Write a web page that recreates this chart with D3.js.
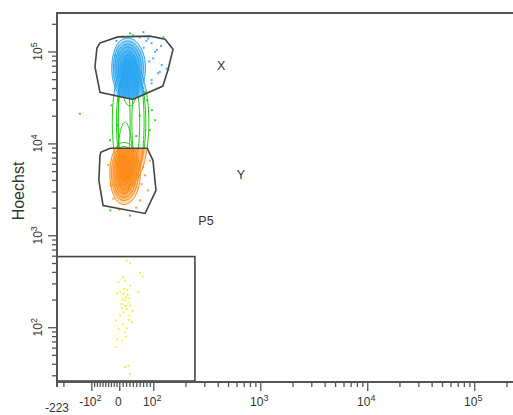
<!DOCTYPE html>
<html lang="en">
<head>
<meta charset="UTF-8">
<title>Hoechst gating</title>
<script src="https://d3js.org/d3.v7.min.js"></script>
<style>
  body { margin: 0; background: #fff; }
  svg { display: block; font-family: "Liberation Sans", Arial, sans-serif; }
  .frame { stroke: #555; stroke-width: 2; fill: none; }
  .tick line { stroke: #555; stroke-width: 1.3; }
  .domain { display: none; }
  .gate { fill: none; stroke: #444; stroke-width: 1.6; }
  .tlab { font-size: 12px; fill: #333; }
  .glab { font-size: 12.5px; fill: #333; }
</style>
</head>
<body>
<div id="chart"></div>
<script>
// axis ranges in raw channel units
const xDomain = [-223, 262144];
const yDomain = [26, 262144];
const xMajor = [-100, 0, 100, 1000, 10000, 100000];
const xLabels = [["-10", "2"], ["0", ""], ["10", "2"], ["10", "3"], ["10", "4"], ["10", "5"]];
const yMajor = [100, 1000, 10000, 100000];
const yLabels = [["10", "2"], ["10", "3"], ["10", "4"], ["10", "5"]];

// gates
const gateX = [[-69, 1.24e5], [-5, 1.44e5], [90, 1.47e5], [129, 1.36e5], [153, 1.06e5], [137, 6.3e4],
               [123, 4.2e4], [40, 3.0e4], [-69, 3.6e4], [-87, 6.8e4], [-80, 1.09e5]];
const gateY = [[-66, 8.0e3], [-33, 8.85e3], [82, 8.85e3], [99, 6.55e3], [106, 3.08e3], [76, 1.73e3],
               [-58, 2.11e3], [-73, 3.96e3], [-69, 7.4e3]];
const gateP5 = [[-223, 26], [245, 587]];
const gateNames = ["X", "Y", "P5"];
const gateLabelAt = [[430, 7.1e4], [661, 4.6e3], [311, 1.45e3]];

// contour rings: [centre x, centre y, half width (x units), half height (decades)]
const ringsX = [[25, 6.6e4, 52, 0.327], [25, 6.6e4, 46, 0.294], [25, 6.6e4, 40, 0.262], [25, 6.6e4, 34, 0.229],
                [25, 6.6e4, 28, 0.185], [25, 6.6e4, 22, 0.142], [25, 6.6e4, 15, 0.098], [25, 6.6e4, 8, 0.055],
                [31, 4.9e4, 24, 0.284]];
const ringsY = [[14, 4.7e3, 48, 0.338], [14, 4.7e3, 42, 0.294], [14, 4.7e3, 36, 0.262], [14, 4.7e3, 30, 0.218],
                [14, 4.7e3, 24, 0.174], [14, 4.7e3, 18, 0.131], [14, 4.7e3, 11, 0.087], [14, 4.7e3, 6, 0.05],
                [17, 6.9e3, 21, 0.39]];
const ringsBridge = [[31, 1.7e4, 56, 0.676], [34, 1.7e4, 44, 0.633], [28, 1.7e4, 32, 0.6],
                     [14, 1.7e4, 18, 0.545], [55, 1.7e4, 18, 0.49]];

// loose events
const dotsX = [[95, 1.23e5], [108, 1.04e5], [120, 7.1e4], [115, 6.0e4], [133, 6.5e4], [95, 4.9e4], [100, 8.4e4],
               [57, 5.3e4], [104, 9.9e4], [111, 5.8e4], [138, 6.3e4], [95, 4.5e4], [80, 1.3e5], [60, 1.42e5],
               [72, 1.1e5], [88, 7.8e4], [-10, 1.3e5], [-15, 9e4], [10, 1.45e5], [40, 1.5e5], [85, 1.38e5],
               [118, 1.15e5], [-20, 7e4], [70, 4.0e4]];
const dotsOut = [[32, 1.57e5], [71, 1.62e5], [124, 1.43e5], [-141, 2.1e4], [-27, 2.6e4], [96, 2.3e4], [90, 1.39e4],
                 [-33, 1.08e4], [104, 1.79e4], [81, 2.95e4], [-32, 1.87e3], [31, 1.64e3], [76, 3.6e4],
                 [-7, 1.57e4], [50, 1.2e4], [60, 2.0e4]];
const dotsY = [[76, 4.5e3], [84, 3.08e3], [61, 2.4e3], [-21, 2.5e3], [90, 6.5e3], [-39, 5.8e3], [70, 5.5e3],
               [50, 2.0e3], [66, 3.6e3], [-30, 3.5e3], [0, 1.9e3], [40, 8.3e3]];
const dotsP5 = [[22, 531], [32, 497], [61, 390], [69, 356], [12, 349], [17, 321], [-3, 308], [32, 284], [24, 255],
                [56, 240], [2, 240], [12, 230], [-8, 234], [17, 195], [27, 187], [7, 179], [32, 172], [22, 158],
                [39, 151], [12, 145], [27, 134], [2, 134], [-13, 118], [37, 113], [12, 108], [22, 98], [-3, 96],
                [17, 88], [-8, 74], [7, 72], [20, 79], [-13, 61], [17, 37], [27, 38], [32, 31], [15, 260],
                [20, 210], [25, 225], [10, 200], [30, 205], [18, 170], [8, 160], [28, 120]];

const colX = "#2aa6f2", colY = "#ff8c1a", colOut = "#22cc11", colP5 = "#eeee30";

// biexponential-ish display transform: linear near zero, log above 100
function T(v) {
  if (v < 0) return 0.261 * v / 100;
  if (v <= 100) return 0.318 * v / 100;
  return 0.318 + Math.log10(v / 100);
}

const width = 513, height = 415;
const xLin = d3.scaleLinear().domain(xDomain.map(T)).range([57, 519]);
const y = d3.scaleLog().domain(yDomain).range([381, 13]);
const X = v => xLin(T(v));

const svg = d3.select("#chart").append("svg").attr("width", width).attr("height", height);
const defs = svg.append("defs");

const poly = d3.line().x(d => X(d[0])).y(d => y(d[1])).curve(d3.curveLinearClosed);
defs.append("clipPath").attr("id", "cX").append("path").attr("d", poly(gateX));
defs.append("clipPath").attr("id", "cY").append("path").attr("d", poly(gateY));
defs.append("clipPath").attr("id", "cOut").append("path")
  .attr("clip-rule", "evenodd")
  .attr("d", `M0,0H${width}V${height}H0Z` + poly(gateX) + poly(gateY));

const rings = [...ringsBridge, ...ringsX, ...ringsY];
const ringPath = r => {
  const [cx, cy, rx, ry] = r;
  return d3.line().curve(d3.curveLinearClosed)(d3.range(64).map(i => {
    const t = i / 64 * 2 * Math.PI;
    return [X(cx + rx * Math.cos(t)), y(cy * Math.pow(10, ry * Math.sin(t)))];
  }));
};

function drawRings(clip, color, fill) {
  svg.append("g").attr("clip-path", `url(#${clip})`)
    .selectAll("path").data(rings).join("path")
    .attr("d", ringPath)
    .attr("fill", fill ? color : "none")
    .attr("fill-opacity", 0.3)
    .attr("stroke", color)
    .attr("stroke-width", 1);
}
drawRings("cOut", colOut, false);
drawRings("cX", colX, true);
drawRings("cY", colY, true);

function drawDots(data, color) {
  svg.append("g").selectAll("rect").data(data).join("rect")
    .attr("x", d => X(d[0]) - 1).attr("y", d => y(d[1]) - 1)
    .attr("width", 2).attr("height", 2)
    .attr("fill", color).attr("opacity", 0.85);
}
drawDots(dotsOut, colOut);
drawDots(dotsX, colX);
drawDots(dotsY, colY);
drawDots(dotsP5, colP5);

// gates
svg.append("path").attr("class", "gate").attr("d", poly(gateX));
svg.append("path").attr("class", "gate").attr("d", poly(gateY));
svg.append("rect").attr("class", "gate")
  .attr("x", X(gateP5[0][0])).attr("y", y(gateP5[1][1]))
  .attr("width", X(gateP5[1][0]) - X(gateP5[0][0]))
  .attr("height", y(gateP5[0][1]) - y(gateP5[1][1]));

svg.selectAll(".glab").data(gateNames).join("text")
  .attr("class", "glab")
  .attr("x", (d, i) => X(gateLabelAt[i][0]))
  .attr("y", (d, i) => y(gateLabelAt[i][1]))
  .attr("dy", "0.35em")
  .attr("text-anchor", "middle")
  .text(d => d);

// axes
const isMajor = v => yMajor.includes(v) || xMajor.includes(v);
const xMinor = [-200, ...d3.range(-90, 100, 10).filter(v => v !== 0),
  ...d3.scaleLog().domain([100, 262144]).ticks().filter(v => !isMajor(v))];
const yMinor = y.ticks().filter(v => !isMajor(v));

svg.append("g").attr("transform", "translate(0,382)")
  .call(d3.axisBottom(xLin).tickValues(xMajor.map(T)).tickSize(9).tickFormat(""));
svg.append("g").attr("transform", "translate(0,382)")
  .call(d3.axisBottom(xLin).tickValues(xMinor.map(T)).tickSize(5).tickFormat(""));
svg.append("g").attr("transform", "translate(57,0)")
  .call(d3.axisLeft(y).tickValues(yMajor).tickSize(9).tickFormat(""));
svg.append("g").attr("transform", "translate(57,0)")
  .call(d3.axisLeft(y).tickValues(yMinor).tickSize(5).tickFormat(""));

svg.append("path").attr("class", "frame")
  .attr("d", `M57,387V13H${width + 10}M57,382H${width + 10}`);

xMajor.forEach((v, i) => {
  const t = svg.append("text").attr("class", "tlab")
    .attr("x", X(v) - 1).attr("y", 406).attr("text-anchor", "middle");
  t.append("tspan").text(xLabels[i][0]);
  if (xLabels[i][1]) t.append("tspan").attr("dy", -5).attr("font-size", 9).text(xLabels[i][1]);
});
svg.append("text").attr("class", "tlab").attr("font-size", 11)
  .attr("x", X(xDomain[0])).attr("y", 412).attr("text-anchor", "middle").text("-223");

yMajor.forEach((v, i) => {
  const t = svg.append("text").attr("class", "tlab")
    .attr("transform", `translate(42,${y(v)}) rotate(-90)`)
    .attr("text-anchor", "middle");
  t.append("tspan").text(yLabels[i][0]);
  t.append("tspan").attr("dy", -5).attr("font-size", 9).text(yLabels[i][1]);
});

svg.append("text")
  .attr("transform", "translate(24,191) rotate(-90)")
  .attr("text-anchor", "middle")
  .attr("font-size", 16).attr("fill", "#333")
  .text("Hoechst");
</script>
</body>
</html>
